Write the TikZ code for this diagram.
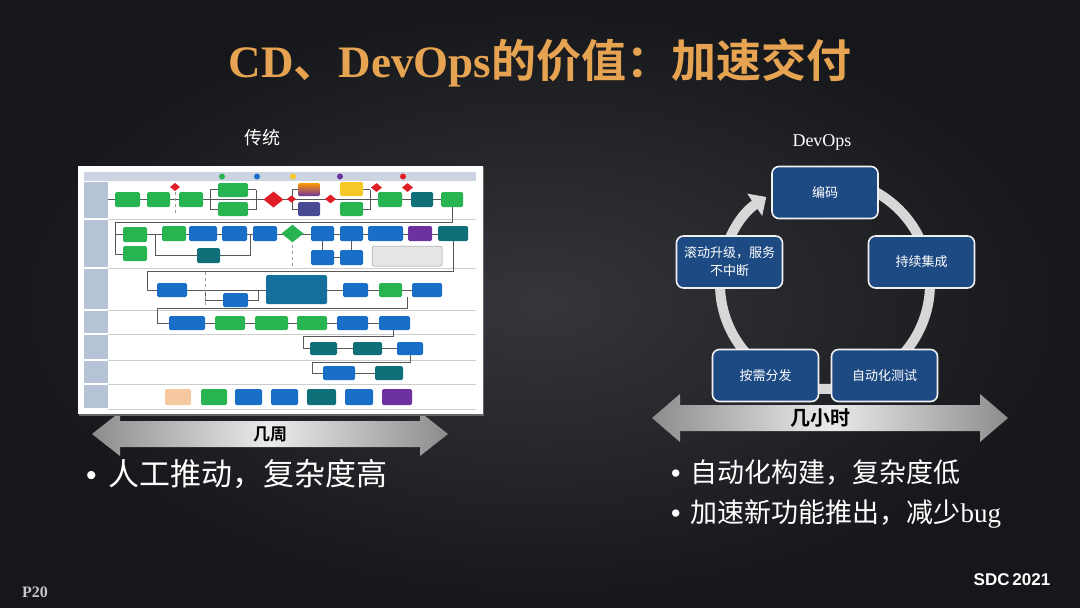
\documentclass[tikz,border=0pt]{standalone}
\usepackage{fontspec}
\setmainfont{Liberation Serif}
\newfontfamily\cjk{Noto Sans CJK SC}[BoldFont={Noto Sans CJK SC Bold}]
\newfontfamily\sdcfont{Liberation Sans}
\usetikzlibrary{arrows.meta,shapes.geometric}
\definecolor{bgin}{RGB}{52,54,59}
\definecolor{bgout}{RGB}{22,23,26}
\definecolor{gold}{RGB}{230,164,82}
\definecolor{boxblue}{RGB}{30,74,132}
\definecolor{ringgray}{RGB}{215,215,215}
\definecolor{fg}{RGB}{40,180,80}
\definecolor{fb}{RGB}{25,110,200}
\definecolor{ft}{RGB}{16,112,122}
\definecolor{fp}{RGB}{110,50,160}
\definecolor{fr}{RGB}{225,30,40}
\definecolor{fy}{RGB}{245,200,40}
\definecolor{fo}{RGB}{245,200,160}
\definecolor{lanehd}{RGB}{182,194,214}
\newcommand\fbx[5]{\fill[#1,rounded corners=1.5pt] (#2,#3) rectangle (#4,#5);}
\newcommand\fdm[4]{\fill[#1] ({#2-#4},{#3}) -- ({#2},{#3-#4*0.8}) -- ({#2+#4},{#3}) -- ({#2},{#3+#4*0.8}) -- cycle;}
\begin{document}
\begin{tikzpicture}[x=1pt,y=-1pt,
  cyc/.style={draw=white!88!gray, line width=1.6pt, fill=boxblue, rounded corners=7pt,
    minimum width=106pt, minimum height=52pt, font=\cjk\fontsize{13}{18}\selectfont,
    text=white, align=center},
  ring/.style={line width=10pt, draw=ringgray},
  flow/.style={draw=black!65, line width=0.7pt},
  gate/.style={draw=black!40, line width=0.5pt, dashed},
  bigarrow/.style={left color=black!45!white, right color=black!45!white, middle color=white!92!black},
  bullet/.style={anchor=west, text=white, inner sep=0pt}]
\useasboundingbox (0,0) rectangle (1080,608);
\shade[inner color=bgin, outer color=bgout] (0,0) rectangle (1080,608);

% title
\node[text=gold, inner sep=0pt] (title) at (540,63)
  {\fontsize{45}{50}\selectfont\bfseries CD{\cjk 、}DevOps{\cjk 的价值：加速交付}};

\node[text=white, font=\cjk\fontsize{18}{20}\selectfont] (lblT) at (262,138) {传统};
\node[text=white, font=\fontsize{18}{20}\selectfont] (lblD) at (822,142) {DevOps};

% ---------- left big arrow ----------
\shade[bigarrow] (92,434) -- (120,412) -- (120,421) -- (420,421) -- (420,412) -- (448,434)
  -- (420,456) -- (420,447) -- (120,447) -- (120,456) -- cycle;
\node[font=\cjk\bfseries\fontsize{17}{19}\selectfont, text=black] (weeks) at (270,434) {几周};

% ---------- left flowchart image ----------
\fill[black!60] (79,167) rectangle (484,416);
\fill[white] (78,166) rectangle (483,414);
\fill[lanehd!70!white] (84,172) rectangle (476,181);
\foreach \a/\b in {181/219,219/268,268/310,310/334,334/360,360/384,384/409}{
  \fill[lanehd] (84,\a+0.6) rectangle (108,\b-0.6);
  \draw[black!20, line width=0.5pt] (108,\b) -- (476,\b);
}
% legend markers
\foreach \x/\c in {222/fg,257/fb,293/fy,340/fp,403/fr}{
  \fill[\c] (\x,176.5) circle (3);
}
% connector lines
\draw[flow] (108,199.5) -- (463,199.5);
\draw[flow] (210,189.5) -- (210,209.5) (210,189.5) -- (218,189.5) (210,209.5) -- (218,209.5);
\draw[flow] (256,189.5) -- (256,209.5) (248,189.5) -- (256,189.5) (248,209.5) -- (256,209.5);
\draw[flow] (292,189.5) -- (292,209.5) (292,189.5) -- (298,189.5) (292,209.5) -- (298,209.5);
\draw[flow] (370,189.5) -- (370,209.5) (363,189.5) -- (370,189.5) (363,209.5) -- (370,209.5);
\draw[gate] (175,192) -- (175,215);
\draw[flow] (452,207) -- (452,222) -- (115,222) -- (115,254) -- (123,254);
\draw[flow] (115,234.5) -- (468,234.5);
\draw[flow] (155,234.5) -- (155,255.5) -- (197,255.5) (220,255.5) -- (250,255.5) -- (250,234.5);
\draw[flow] (322.5,241) -- (322.5,250) (351.5,241) -- (351.5,250) (334,257.5) -- (340,257.5);
\draw[gate] (292.5,245) -- (292.5,268);
\draw[flow] (453,241) -- (453,271) -- (147,271) -- (147,290) -- (157,290);
\draw[flow] (147,290) -- (412,290);
\draw[flow] (205,290) -- (205,300) -- (223,300) (248,300) -- (258,300) -- (258,290);
\draw[gate] (205,272) -- (205,306);
\draw[flow] (407,297) -- (407,308) -- (157,308) -- (157,323) -- (169,323);
\draw[flow] (157,323) -- (410,323);
\draw[flow] (393,330) -- (393,336) -- (303,336) -- (303,348.5) -- (310,348.5);
\draw[flow] (303,348.5) -- (423,348.5);
\draw[flow] (410,355) -- (410,362) -- (312,362) -- (312,373) -- (323,373);
\draw[flow] (312,373) -- (403,373);
% lane 1
\fbx{fg}{115}{192}{140}{207}
\fbx{fg}{147}{192}{170}{207}
\fbx{fg}{179}{192}{203}{207}
\fbx{fg}{218}{183}{248}{197}
\fbx{fg}{218}{202}{248}{216}
\fdm{fr}{273.5}{199.5}{10}
\fdm{fr}{175}{187}{5}
\shade[top color=orange!80!yellow, bottom color=fp, rounded corners=1.5pt] (298,183) rectangle (320,196);
\fbx{fp!60!ft}{298}{202}{320}{216}
\fdm{fr}{291.5}{199}{4.5}
\fdm{fr}{330.5}{199}{5.5}
\fbx{fy}{340}{182}{363}{196}
\fbx{fg}{340}{202}{363}{216}
\fdm{fr}{376.5}{187.5}{5.5}
\fdm{fr}{407.5}{187.5}{5.5}
\fbx{fg}{378}{192}{402}{207}
\fbx{ft}{411}{192}{433}{207}
\fbx{fg}{441}{192}{463}{207}
% lane 2
\fbx{fg}{123}{227}{147}{242}
\fbx{fg}{123}{246}{147}{261}
\fbx{fg}{162}{226}{186}{241}
\fbx{fb}{189}{226}{217}{241}
\fbx{fb}{222}{226}{247}{241}
\fbx{ft}{197}{248}{220}{263}
\fbx{fb}{253}{226}{277}{241}
\fdm{fg}{292.5}{233.5}{11}
\fbx{fb}{311}{226}{334}{241}
\fbx{fb}{340}{226}{363}{241}
\fbx{fb}{311}{250}{334}{265}
\fbx{fb}{340}{250}{363}{265}
\fbx{fb}{368}{226}{403}{241}
\fbx{fp}{408}{226}{432}{241}
\fbx{ft}{438}{226}{468}{241}
\filldraw[fill=black!10, draw=black!40, line width=0.5pt, rounded corners=2pt] (372,246) rectangle (442,266);
% lane 3
\fbx{fb}{157}{283}{187}{297}
\fbx{fb}{223}{293}{248}{307}
\fbx{ft!55!fb}{266}{275}{327}{304}
\fbx{fb}{343}{283}{368}{297}
\fbx{fg}{379}{283}{402}{297}
\fbx{fb}{412}{283}{442}{297}
% lane 4
\fbx{fb}{169}{316}{205}{330}
\fbx{fg}{215}{316}{245}{330}
\fbx{fg}{255}{316}{288}{330}
\fbx{fg}{297}{316}{327}{330}
\fbx{fb}{337}{316}{368}{330}
\fbx{fb}{379}{316}{410}{330}
% lane 5
\fbx{ft}{310}{342}{337}{355}
\fbx{ft}{353}{342}{382}{355}
\fbx{fb}{397}{342}{423}{355}
% lane 6
\fbx{fb}{323}{366}{355}{380}
\fbx{ft}{375}{366}{403}{380}
% lane 7
\fbx{fo}{165}{389}{191}{405}
\fbx{fg}{201}{389}{227}{405}
\fbx{fb}{235}{389}{262}{405}
\fbx{fb}{271}{389}{298}{405}
\fbx{ft}{307}{389}{336}{405}
\fbx{fb}{345}{389}{373}{405}
\fbx{fp}{382}{389}{412}{405}

% ---------- right big arrow ----------
\shade[bigarrow] (652,418) -- (680,394) -- (680,405) -- (980,405) -- (980,394) -- (1008,418)
  -- (980,442) -- (980,431) -- (680,431) -- (680,442) -- cycle;
\node[font=\cjk\bfseries\fontsize{20}{22}\selectfont, text=black] (hours) at (820,418) {几小时};

% ---------- DevOps cycle ----------
\coordinate (cc) at (825,284);
\draw[ring, -{Triangle[width=26pt,length=14pt]}] (cc) ++(-90:105) arc[start angle=-90, end angle=236, radius=105];
\node[cyc] (code) at (825,192.5) {编码};
\node[cyc] (ci) at (921.5,262) {持续集成};
\node[cyc] (test) at (884.5,375.5) {自动化测试};
\node[cyc] (dist) at (765.5,375.5) {按需分发};
\node[cyc] (roll) at (729.5,262) {滚动升级，服务\\不中断};

% ---------- bullets ----------
\node[bullet, font=\cjk\fontsize{31}{34}\selectfont] (b1) at (86,474)
  {{\sdcfont\fontsize{30}{30}\selectfont •}\hspace{12pt}人工推动，复杂度高};
\node[bullet, font=\cjk\fontsize{27}{30}\selectfont] (b2) at (671,473)
  {{\sdcfont\fontsize{27}{27}\selectfont •}\hspace{10pt}自动化构建，复杂度低};
\node[bullet, font=\cjk\fontsize{27}{30}\selectfont] (b3) at (671,514)
  {{\sdcfont\fontsize{27}{27}\selectfont •}\hspace{10pt}加速新功能推出，减少{\rmfamily bug}};

% ---------- footer ----------
\node[text=black!22!white, font=\bfseries\fontsize{16}{18}\selectfont] (pg) at (35,592) {P20};
\node[text=white, font=\sdcfont\bfseries\fontsize{17}{19}\selectfont] (sdc) at (1012,580) {SDC\,2021};
\end{tikzpicture}
\end{document}
